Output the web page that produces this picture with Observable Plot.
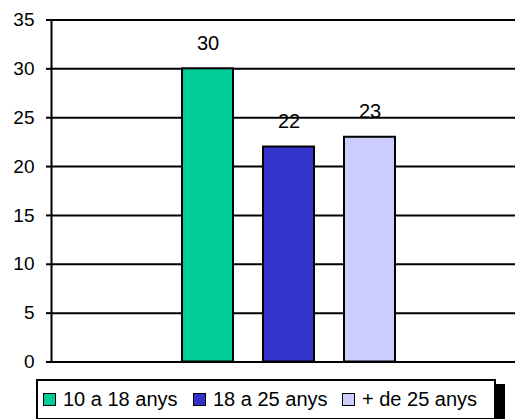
<!DOCTYPE html>
<html>
<head>
<meta charset="utf-8">
<script src="https://cdn.jsdelivr.net/npm/d3@7"></script>
<script src="https://cdn.jsdelivr.net/npm/@observablehq/plot@0.6"></script>
<style>
  html, body { margin: 0; padding: 0; background: #fff; }
  body { width: 515px; height: 419px; overflow: hidden; position: relative; font-family: "Liberation Sans", Arial, sans-serif; }
  #chart svg { display: block; }
  #legend { position: absolute; left: 36px; top: 379px; width: 456px; height: 37px; border: 2px solid #000; background: #fff; box-shadow: 9px 5px 0 #000; }
  .item { position: absolute; top: 0; height: 37px; display: flex; align-items: center; font-size: 20px; color: #000; white-space: nowrap; }
  .sw { width: 11px; height: 11px; border: 1.5px solid #000; margin-right: 7px; }
</style>
</head>
<body>
<div id="chart"></div>
<div id="legend"></div>
<script>
const series = ["10 a 18 anys", "18 a 25 anys", "+ de 25 anys"];
const values = [30, 22, 23];
const colors = ["#00CC99", "#3333CC", "#CCCCFF"];
const yTicks = [0, 5, 10, 15, 20, 25, 30, 35];

const data = series.map((s, i) => ({series: s, value: values[i]}));

const chart = Plot.plot({
  width: 515,
  height: 372,
  marginLeft: 51,
  marginRight: 0,
  marginTop: 19.5,
  marginBottom: 10.5,
  style: {fontFamily: "'Liberation Sans', Arial, sans-serif", fontSize: "19px", color: "#000", background: "#fff"},
  x: {domain: series, range: [151, 427], padding: 0.366, axis: null},
  y: {domain: [0, 35], ticks: yTicks},
  color: {domain: series, range: colors},
  marks: [
    Plot.ruleY(yTicks, {stroke: "#000", strokeWidth: 2}),
    Plot.barY(data, {x: "series", y: "value", fill: "series", stroke: "#000", strokeWidth: 2}),
    Plot.text(data, {x: "series", y: "value", text: d => String(d.value), dy: -19, lineAnchor: "bottom", fontSize: 20, fill: "#000"}),
    Plot.axisY({ticks: yTicks, tickSize: 5, tickPadding: 12, stroke: "#000", strokeWidth: 2, strokeOpacity: 1, fontSize: 19, label: null}),
    Plot.frame({anchor: "left", stroke: "#000", strokeWidth: 2})
  ]
});
document.getElementById("chart").appendChild(chart);

const lefts = [5, 155, 304];
const legend = d3.select("#legend");
series.forEach((s, i) => {
  const item = legend.append("div").attr("class", "item").style("left", lefts[i] + "px");
  item.append("div").attr("class", "sw").style("background", colors[i]);
  item.append("span").text(s);
});
</script>
</body>
</html>
